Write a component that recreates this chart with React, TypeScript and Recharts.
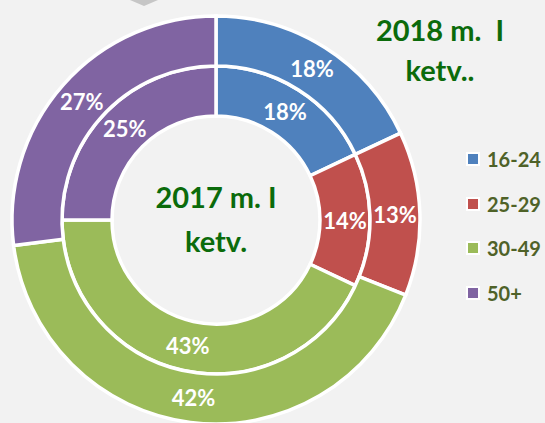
import React from "react";
import { PieChart, Pie, Cell, Legend } from "recharts";

const groups = ["16-24", "25-29", "30-49", "50+"];
const share2017 = [18, 14, 43, 25];
const share2018 = [18, 13, 42, 27];
const colors = ["#4f81bd", "#c0504d", "#9bbb59", "#8064a2"];

const inner = groups.map((g, i) => ({ name: g, value: share2017[i] }));
const outer = groups.map((g, i) => ({ name: g, value: share2018[i] }));

const RADIAN = Math.PI / 180;
const FONT = "Lato, 'Open Sans', sans-serif";

const pctLabel = (p: any) => {
  const r = (p.innerRadius + p.outerRadius) / 2;
  const x = p.cx + r * Math.cos(-p.midAngle * RADIAN);
  const y = p.cy + r * Math.sin(-p.midAngle * RADIAN);
  return (
    <text x={x} y={y} fill="#fff" fontSize={22} fontWeight={700} fontFamily={FONT}
      textAnchor="middle" dominantBaseline="central">
      {p.value}%
    </text>
  );
};

const legendBox = () => (
  <div style={{ fontFamily: FONT }}>
    {groups.map((g, i) => (
      <div key={g} style={{ display: "flex", alignItems: "center", height: 44.6 }}>
        <span style={{ width: 10, height: 10, background: colors[i], border: "2px solid #fff", marginRight: 7 }} />
        <span style={{ color: "#4f6228", fontSize: 20, fontWeight: 700 }}>{g}</span>
      </div>
    ))}
  </div>
);

const titleStyle: React.CSSProperties = {
  position: "absolute", textAlign: "center", color: "#0b6b0b",
  fontFamily: FONT, fontWeight: 700, fontSize: 29, lineHeight: "44px",
};

export default function App() {
  return (
    <div style={{ position: "absolute", left: 0, top: 0, width: 545, height: 423, background: "#f2f2f2", overflow: "hidden" }}>
      <svg width={40} height={10} style={{ position: "absolute", left: 124, top: 0 }}>
        <polygon points="6,0 34,0 20,6" fill="#c6c6c6" />
      </svg>
      <PieChart width={545} height={423} margin={{ top: 0, right: 0, bottom: 0, left: 0 }}>
        <Pie data={inner} dataKey="value" cx={216} cy={220} innerRadius={104} outerRadius={154}
          startAngle={90} endAngle={-270} stroke="#fff" strokeWidth={3.5}
          label={pctLabel} labelLine={false} isAnimationActive={false}>
          {inner.map((d, i) => <Cell key={d.name} fill={colors[i]} />)}
        </Pie>
        <Pie data={outer} dataKey="value" cx={216} cy={220} innerRadius={154} outerRadius={204}
          startAngle={90} endAngle={-270} stroke="#fff" strokeWidth={3.5}
          label={pctLabel} labelLine={false} isAnimationActive={false}>
          {outer.map((d, i) => <Cell key={d.name} fill={colors[i]} />)}
        </Pie>
        <Legend layout="vertical" align="right" verticalAlign="top" content={legendBox}
          wrapperStyle={{ position: "absolute", left: 466, top: 137, width: 80 }} />
      </PieChart>
      <div style={{ ...titleStyle, left: 136, top: 175, width: 160 }}>
        2017 m. I<br />ketv.
      </div>
      <div style={{ ...titleStyle, left: 360, top: 10, width: 160, lineHeight: "40px" }}>
        2018 m.&nbsp; I<br />ketv..
      </div>
    </div>
  );
}
